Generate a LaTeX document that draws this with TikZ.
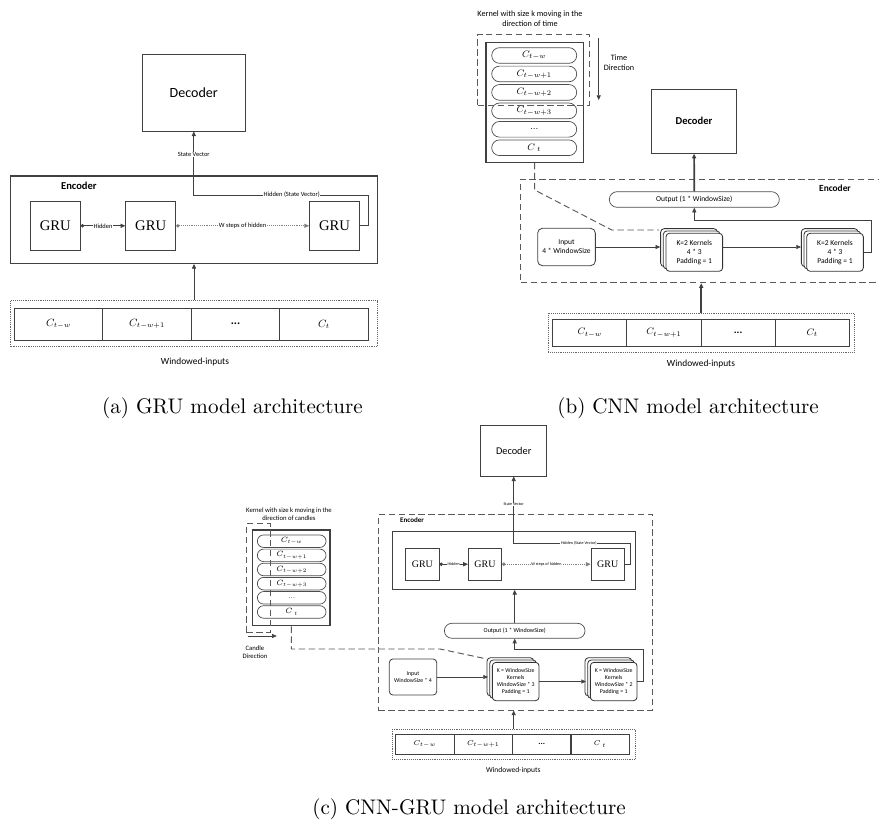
\RequirePackage{fix-cm}
\documentclass[tikz,border=0pt]{standalone}
\usepackage{fontspec}
\newfontfamily\cali{Carlito}
\newfontfamily\tms{Liberation Serif}
\newfontfamily\capf{lmroman10-regular}[Extension=.otf]
\usetikzlibrary{arrows.meta,shapes.misc,shadows}
\newcommand{\szf}[1]{\fontsize{#1}{\fpeval{1.2*#1}}\selectfont}

\begin{document}
\begin{tikzpicture}[x=0.03cm, y=-0.03cm,
		blk/.style={draw=black!75, line width=0.7pt, inner sep=1pt},
		dsh/.style={draw=black!65, line width=0.8pt, dash pattern=on 5.5pt off 3pt},
		dotbox/.style={draw=black!60, line width=0.6pt, densely dotted},
		pill/.style={draw=black!70, line width=0.6pt, rounded rectangle, inner sep=0pt},
		stk/.style={draw=black!80, line width=0.7pt, fill=white, rounded corners=3pt, align=center, inner sep=1pt,
			copy shadow={shadow xshift=-0.16cm, shadow yshift=0.14cm, draw=black!80, line width=0.7pt},
			copy shadow={shadow xshift=-0.08cm, shadow yshift=0.07cm, draw=black!80, line width=0.7pt}},
		arr/.style={draw=black!75, line width=0.6pt, -{Triangle[length=4pt, width=3.5pt]}},
		dotarr/.style={draw=black!75, line width=0.6pt, {Circle[length=3pt]}-{Triangle[length=4pt, width=3.5pt]}},
		lab/.style={fill=white, inner sep=0.5pt},
		capt/.style={font={\capf\szf{18}}}
	]
	\useasboundingbox (0,0) rectangle (879,823);

	\node[blk, minimum width=3.07cm, minimum height=2.3cm, font={\cali\szf{12}}] (decA) at (193.8,92.7) {Decoder};
	\node[blk, line width=1pt, minimum width=11cm, minimum height=2.62cm] (encA) at (194,219.7) {};
	\node[anchor=west, font={\cali\bfseries\szf{9}}] (encAl) at (57,186) {Encoder};
	\node[blk, minimum width=1.5cm, minimum height=1.47cm, font={\tms\szf{12.5}}] (gruA1) at (55.3,225.8) {GRU};
	\node[blk, minimum width=1.5cm, minimum height=1.47cm, font={\tms\szf{12.5}}] (gruA2) at (150.7,225.8) {GRU};
	\node[blk, minimum width=1.5cm, minimum height=1.47cm, font={\tms\szf{12.5}}] (gruA3) at (334.5,225.8) {GRU};
	\node[dotbox, minimum width=11cm, minimum height=1.38cm] (inA) at (194,323.7) {};
	\node[blk, minimum width=2.655cm, minimum height=0.95cm, font=\szf{9}] (cA1) at (58.55,324.2) {$C_{t-w}$};
	\node[blk, minimum width=2.655cm, minimum height=0.95cm, font=\szf{9}] (cA2) at (147.05,324.2) {$C_{t-w+1}$};
	\node[blk, minimum width=2.655cm, minimum height=0.95cm, font={\cali\bfseries\szf{10}}] (cA3) at (235.55,324.2) {...};
	\node[blk, minimum width=2.655cm, minimum height=0.95cm, font=\szf{9}] (cA4) at (324.05,324.2) {$C_t$};
	\node[font={\cali\szf{8}}] (winA) at (195,362) {Windowed-inputs};
	\node[capt] (capA) at (232.5,408) {(a) GRU model architecture};
	\coordinate (hidA) at (368.7,195);

	\draw[arr] (inA) -- (encA);
	\draw[dotarr] (gruA1.east) -- node[lab, font={\cali\szf{5.5}}] {Hidden} (gruA2.west);
	\draw[dotarr, densely dotted, draw=black!50] (gruA2.east) -- node[lab, font={\cali\szf{5.5}}] {W steps of hidden} (gruA3.west);
	\draw[arr] (gruA3.east) -| (hidA) -| node[lab, pos=0.22, font={\cali\szf{5.5}}] {Hidden (State Vector)} node[lab, pos=0.82, font={\cali\szf{5.5}}] {State Vector} (decA.south);

	\node[align=center, font={\cali\szf{7}}] (kerBl) at (530,19) {Kernel with size k moving in the\\direction of time};
	\node[blk, line width=1.1pt, minimum width=2.92cm, minimum height=3.6cm] (colB) at (534.7,102.3) {};
	\foreach \i/\lab in {0/{$C_{t-w}$}, 1/{$C_{t-w+1}$}, 2/{$C_{t-w+2}$}, 3/{$C_{t-w+3}$}, 4/{...}, 5/{$C_{\;t}$}}
		\node[pill, minimum width=2.55cm, minimum height=0.47cm, font=\szf{8}] (pB\i) at (534.2,{55.5+18.45*\i}) {\lab};
	\node[dsh, minimum width=3.34cm, minimum height=2.13cm] (kerB) at (533.3,69.8) {};
	\coordinate (tB1) at (598.7,38);
	\coordinate (tB2) at (598.7,100);
	\node[align=center, font={\cali\szf{7}}] (timeB) at (619,62.5) {Time\\Direction};
	\node[blk, minimum width=2.54cm, minimum height=1.92cm, font={\cali\bfseries\szf{9}}] (decB) at (694,121.3) {Decoder};
	\node[dsh, minimum width=10.77cm, minimum height=3.11cm] (encB) at (700.2,230.9) {};
	\node[font={\cali\bfseries\szf{8}}] (encBl) at (835,188.3) {Encoder};
	\node[pill, minimum width=5.1cm, minimum height=0.47cm, font={\cali\szf{6.4}}] (outB) at (694.3,199.5) {Output (1 * WindowSize)};
	\node[blk, rounded corners=4pt, minimum width=1.73cm, minimum height=1.12cm, align=center, font={\cali\szf{6.4}}] (inpB) at (566.5,247) {Input\\4 * WindowSize};
	\node[stk, minimum width=1.7cm, minimum height=1.14cm, font={\cali\szf{6.4}}] (stB1) at (694.3,252.3) {K=2 Kernels\\4 * 3\\Padding = 1};
	\node[stk, minimum width=1.7cm, minimum height=1.14cm, font={\cali\szf{6.4}}] (stB2) at (835,252.3) {K=2 Kernels\\4 * 3\\Padding = 1};
	\node[dotbox, minimum width=9.17cm, minimum height=1.17cm] (inB) at (701.2,332.8) {};
	\node[blk, minimum width=2.22cm, minimum height=0.8cm, font=\szf{8}] (cB1) at (589.8,332.7) {$C_{t-w}$};
	\node[blk, minimum width=2.22cm, minimum height=0.8cm, font=\szf{8}] (cB2) at (663.9,332.7) {$C_{t-w+1}$};
	\node[blk, minimum width=2.22cm, minimum height=0.8cm, font={\cali\bfseries\szf{9}}] (cB3) at (738.1,332.7) {...};
	\node[blk, minimum width=2.22cm, minimum height=0.8cm, font=\szf{8}] (cB4) at (812.2,332.7) {$C_t$};
	\node[font={\cali\szf{8}}] (winB) at (701,364.3) {Windowed-inputs};
	\node[capt] (capB) at (688,408) {(b) CNN model architecture};
	\coordinate (retB) at (871,220.7);
	\coordinate (kB1) at (534.7,190);
	\coordinate (kB2) at (611.7,230);
	\coordinate (kB3) at (659,230);

	\draw[arr] (tB1) -- (tB2);
	\draw[arr, line width=1.4pt] (outB) -- (decB);
	\draw[arr, shorten >=0.16cm] (inpB.east) -- (inpB.east -| stB1.west);
	\draw[arr, shorten >=0.16cm] (stB1.east |- inpB.east) -- (inpB.east -| stB2.west);
	\draw[arr] (stB2.east) -| (retB) -| (outB.south);
	\draw[dsh] (colB.south) -- (kB1) -- (kB2) -- (kB3);
	\draw[arr, line width=1.4pt] (inB.north) -- (inB.north |- encB.south);

	\node[align=center, font={\cali\szf{5.7}}] (kerCl) at (289,514) {Kernel with size k moving in the\\direction of candles};
	\node[blk, line width=1.1pt, minimum width=2.32cm, minimum height=2.87cm] (colC) at (291.4,577.9) {};
	\foreach \i/\lab in {0/{$C_{t-w}$}, 1/{$C_{t-w+1}$}, 2/{$C_{t-w+2}$}, 3/{$C_{t-w+3}$}, 4/{...}, 5/{$C_{\;t}$}}
		\node[pill, minimum width=2.06cm, minimum height=0.375cm, font=\szf{6.5}] (pC\i) at (291.7,{541.2+14.15*\i}) {\lab};
	\node[dsh, minimum width=0.705cm, minimum height=3.27cm] (kerC) at (258.25,578) {};
	\coordinate (cC1) at (248.3,636);
	\coordinate (cC2) at (276.7,636);
	\node[align=center, font={\cali\szf{5.7}}] (candC) at (255,652) {Candle\\Direction};
	\node[blk, minimum width=1.98cm, minimum height=1.53cm, font={\cali\szf{8.8}}] (decC) at (513.7,450.5) {Decoder};
	\node[dsh, minimum width=8.22cm, minimum height=5.87cm] (encC) at (515.3,612.2) {};
	\node[anchor=west, font={\cali\bfseries\szf{6}}] (encCl) at (396,520) {Encoder};
	\node[blk, line width=0.9pt, minimum width=7.28cm, minimum height=1.75cm] (gruC) at (513.7,560.2) {};
	\node[blk, minimum width=1cm, minimum height=0.95cm, font={\tms\szf{8.5}}] (gruC1) at (422.4,564.2) {GRU};
	\node[blk, minimum width=1cm, minimum height=0.95cm, font={\tms\szf{8.5}}] (gruC2) at (485,564.2) {GRU};
	\node[blk, minimum width=1cm, minimum height=0.95cm, font={\tms\szf{8.5}}] (gruC3) at (607.7,564.2) {GRU};
	\node[pill, minimum width=4.22cm, minimum height=0.45cm, font={\cali\szf{5.2}}] (outC) at (514.7,630.8) {Output (1 * WindowSize)};
	\node[blk, rounded corners=3pt, minimum width=1.42cm, minimum height=1.08cm, align=center, font={\cali\szf{5}}] (inpC) at (413,677) {Input\\WindowSize * 4};
	\node[stk, minimum width=1.4cm, minimum height=1.15cm, font={\cali\szf{5}}] (stC1) at (515.7,681.5) {K = WindowSize\\Kernels\\WindowSize * 3\\Padding = 1};
	\node[stk, minimum width=1.4cm, minimum height=1.15cm, font={\cali\szf{5}}] (stC2) at (613.7,681.5) {K = WindowSize\\Kernels\\WindowSize * 2\\Padding = 1};
	\node[dotbox, minimum width=7.28cm, minimum height=0.91cm] (inC) at (513.7,744.2) {};
	\node[blk, minimum width=1.752cm, minimum height=0.6cm, font=\szf{6}] (cC1n) at (424.9,744) {$C_{t-w}$};
	\node[blk, minimum width=1.752cm, minimum height=0.6cm, font=\szf{6}] (cC2n) at (483.3,744) {$C_{t-w+1}$};
	\node[blk, minimum width=1.752cm, minimum height=0.6cm, font={\cali\bfseries\szf{7}}] (cC3n) at (541.7,744) {...};
	\node[blk, minimum width=1.752cm, minimum height=0.6cm, font=\szf{6}] (cC4n) at (600.1,744) {$C_{\;t}$};
	\node[font={\cali\szf{6.4}}] (winC) at (513.3,770) {Windowed-inputs};
	\node[capt] (capC) at (469,809) {(c) CNN-GRU model architecture};
	\coordinate (hidC) at (630,543.3);
	\coordinate (retC) at (643.3,649);
	\coordinate (kC1) at (291.4,649);
	\coordinate (kC2) at (440,649);
	\coordinate (kC3) at (487,659);

	\draw[arr] (cC1) -- (cC2);
	\draw[dotarr] (gruC1.east) -- node[lab, font={\cali\szf{3.5}}] {Hidden} (gruC2.west);
	\draw[dotarr, densely dotted, draw=black!50] (gruC2.east) -- node[lab, font={\cali\szf{3.5}}] {W steps of hidden} (gruC3.west);
	\draw[arr] (gruC3.east) -| (hidC) -| node[lab, pos=0.22, font={\cali\szf{3.5}}] {Hidden (State Vector)} node[lab, pos=0.79, font={\cali\szf{3.5}}] {State Vector} (decC.south);
	\draw[arr, line width=1.2pt] (outC.north) -- (outC.north |- gruC.south);
	\draw[arr, shorten >=0.12cm] (inpC.east) -- (inpC.east -| stC1.west);
	\draw[arr, shorten >=0.12cm] (stC1.east) -- (stC2.west);
	\draw[arr] (stC2.east) -| (retC) -| (outC.south);
	\draw[dsh] (colC.south) -- (kC1) -- (kC2) -- (kC3);
	\draw[arr, line width=1.2pt] (inC.north) -- (inC.north |- encC.south);
\end{tikzpicture}
\end{document}
